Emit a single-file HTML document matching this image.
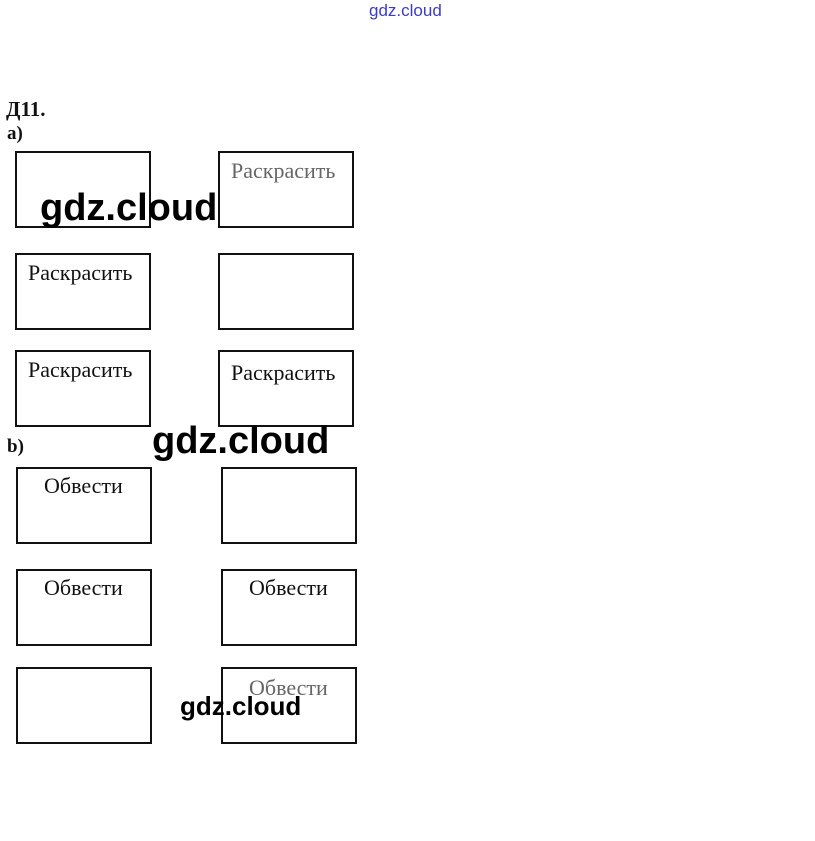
<!DOCTYPE html>
<html><head><meta charset="utf-8"><style>
body{margin:0;width:815px;height:841px;background:#fff;position:relative;overflow:hidden;font-family:"Liberation Serif","DejaVu Serif",serif}
.b{position:absolute;border:2px solid #111;box-sizing:border-box;width:136px;height:77px}
.t{position:absolute;font-size:22px;color:#111;white-space:nowrap}
.w{position:absolute;font-family:"Liberation Sans","DejaVu Sans",sans-serif;color:#000;font-weight:bold;white-space:nowrap}
</style></head><body>
<div class="w" style="left:369px;top:1px;font-size:17px;font-weight:normal;color:#3a3ad0">gdz.cloud</div>
<div class="t" style="left:6px;top:97px;font-weight:bold;font-size:21px">Д11.</div>
<div class="t" style="left:7px;top:123px;font-weight:bold;font-size:19px">а)</div>
<div class="b" style="left:15px;top:151px"></div>
<div class="b" style="left:218px;top:151px"></div>
<div class="t" style="left:231px;top:158px;color:#666">Раскрасить</div>
<div class="b" style="left:15px;top:253px"></div>
<div class="t" style="left:28px;top:260px">Раскрасить</div>
<div class="b" style="left:218px;top:253px"></div>
<div class="b" style="left:15px;top:350px"></div>
<div class="t" style="left:28px;top:357px">Раскрасить</div>
<div class="b" style="left:218px;top:350px"></div>
<div class="t" style="left:231px;top:360px">Раскрасить</div>
<div class="t" style="left:7px;top:436px;font-weight:bold;font-size:19px">b)</div>
<div class="b" style="left:16px;top:467px"></div>
<div class="t" style="left:44px;top:473px">Обвести</div>
<div class="b" style="left:221px;top:467px"></div>
<div class="b" style="left:16px;top:569px"></div>
<div class="t" style="left:44px;top:575px">Обвести</div>
<div class="b" style="left:221px;top:569px"></div>
<div class="t" style="left:249px;top:575px">Обвести</div>
<div class="b" style="left:16px;top:667px"></div>
<div class="b" style="left:221px;top:667px"></div>
<div class="t" style="left:249px;top:675px;color:#666">Обвести</div>
<div class="w" style="left:40px;top:187px;font-size:38px">gdz.cloud</div>
<div class="w" style="left:152px;top:420px;font-size:38px">gdz.cloud</div>
<div class="w" style="left:180px;top:691px;font-size:26px">gdz.cloud</div>
</body></html>
